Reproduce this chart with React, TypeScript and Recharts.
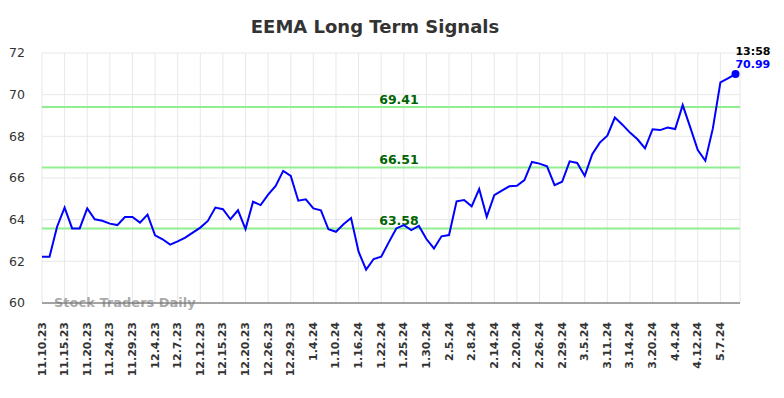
import React from 'react';
import {
  LineChart, Line, XAxis, YAxis, CartesianGrid, ReferenceLine,
} from 'recharts';

// closing prices, one per trading session
const prices = [
  62.22, 62.22, 63.66, 64.58, 63.58, 63.58, 64.54, 64.02, 63.95, 63.81,
  63.74, 64.13, 64.13, 63.86, 64.24, 63.25, 63.06, 62.80, 62.96, 63.14,
  63.38, 63.62, 63.94, 64.58, 64.50, 64.02, 64.45, 63.55, 64.86, 64.70,
  65.20, 65.62, 66.34, 66.10, 64.91, 64.98, 64.54, 64.45, 63.54, 63.42,
  63.78, 64.08, 62.46, 61.60, 62.11, 62.22, 62.91, 63.58, 63.74, 63.50,
  63.70, 63.07, 62.62, 63.20, 63.26, 64.88, 64.94, 64.64, 65.47, 64.14,
  65.18, 65.39, 65.60, 65.63, 65.90, 66.77, 66.69, 66.56, 65.66, 65.82,
  66.80, 66.72, 66.10, 67.14, 67.70, 68.03, 68.90, 68.56, 68.18, 67.86,
  67.42, 68.34, 68.30, 68.42, 68.35, 69.50, 68.43, 67.34, 66.83, 68.38,
  70.59, 70.78, 70.99,
];

// a date label every third session
const dateLabels = [
  '11.10.23', '11.15.23', '11.20.23', '11.24.23', '11.29.23', '12.4.23',
  '12.7.23', '12.12.23', '12.15.23', '12.20.23', '12.26.23', '12.29.23',
  '1.4.24', '1.10.24', '1.16.24', '1.22.24', '1.25.24', '1.30.24',
  '2.5.24', '2.8.24', '2.14.24', '2.20.24', '2.26.24', '2.29.24',
  '3.5.24', '3.11.24', '3.14.24', '3.20.24', '4.4.24', '4.12.24', '5.7.24',
];
const labelStep = 3;

const signalLevels = [69.41, 66.51, 63.58];
const yTicks = [60, 62, 64, 66, 68, 70, 72];
const lastTime = '13:58';

const FONT = '"DejaVu Sans", sans-serif';

const chartData = prices.map((p, i) => ({ idx: i, price: p }));
const xTicks = dateLabels.map((_, i) => i * labelStep);

const DateTick = ({ x, y, payload }: any) => (
  <text
    x={x}
    y={y}
    transform={`rotate(-90, ${x}, ${y})`}
    textAnchor="end"
    dominantBaseline="central"
    fontSize={11}
    fontWeight="bold"
    fontFamily={FONT}
    fill="#333"
  >
    {dateLabels[payload.value / labelStep]}
  </text>
);

const LevelLabel = ({ viewBox, value }: any) => (
  <text
    x={viewBox.x + viewBox.width / 2 + 8}
    y={viewBox.y - 3}
    textAnchor="middle"
    fontSize={12.5}
    fontWeight="bold"
    fontFamily={FONT}
    fill="#006400"
  >
    {value}
  </text>
);

const LastDot = (props: any) => {
  const { cx, cy, index } = props;
  if (index !== prices.length - 1) return <g key={`d${index}`} />;
  return (
    <g key="last">
      <circle cx={cx} cy={cy} r={4} fill="#0000ff" />
      <text x={cx} y={cy - 19} fontSize={11} fontWeight="bold" fontFamily={FONT} fill="#000">
        {lastTime}
      </text>
      <text x={cx} y={cy - 6} fontSize={11} fontWeight="bold" fontFamily={FONT} fill="#0000ff">
        {prices[prices.length - 1].toFixed(2)}
      </text>
    </g>
  );
};

export default function App() {
  return (
    <div
      style={{
        position: 'absolute', left: 0, top: 0, width: 784, height: 398,
        background: '#fff', fontFamily: FONT,
      }}
    >
      <div
        style={{
          position: 'absolute', left: 0, width: 750, top: 16, textAlign: 'center',
          fontSize: 18, fontWeight: 'bold', color: '#333',
        }}
      >
        EEMA Long Term Signals
      </div>
      <LineChart
        width={784}
        height={398}
        data={chartData}
        margin={{ top: 53, right: 44, left: 0, bottom: 0 }}
      >
        <CartesianGrid stroke="#e8e8e8" strokeWidth={1} />
        <XAxis
          dataKey="idx"
          type="number"
          domain={[0, 92.6]}
          ticks={xTicks}
          interval={0}
          height={95}
          tickLine={false}
          tickMargin={13}
          axisLine={{ stroke: '#555', strokeWidth: 1.2 }}
          tick={<DateTick />}
        />
        <YAxis
          domain={[60, 72]}
          ticks={yTicks}
          width={42}
          tickLine={false}
          axisLine={false}
          tickMargin={11}
          tick={{ fontSize: 12.5, fill: '#333', fontFamily: FONT }}
        />
        {signalLevels.map((lv) => (
          <ReferenceLine
            key={lv}
            y={lv}
            stroke="#90ee90"
            strokeWidth={2}
            label={<LevelLabel value={lv.toFixed(2)} />}
          />
        ))}
        <Line
          type="linear"
          dataKey="price"
          stroke="#0000ff"
          strokeWidth={2}
          dot={LastDot}
          activeDot={false}
          isAnimationActive={false}
        />
      </LineChart>
      <div
        style={{
          position: 'absolute', left: 54, top: 295, fontSize: 13, fontWeight: 'bold',
          color: 'rgba(120,120,120,0.65)', whiteSpace: 'nowrap', lineHeight: '16px',
        }}
      >
        Stock Traders Daily
      </div>
    </div>
  );
}
